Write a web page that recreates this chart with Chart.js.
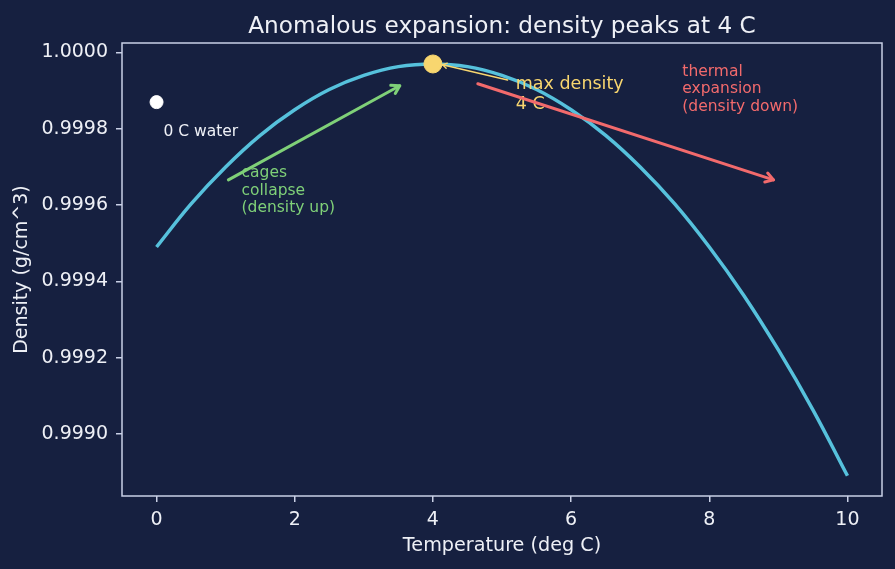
<!DOCTYPE html>
<html>
<head>
<meta charset="utf-8">
<script src="https://cdn.jsdelivr.net/npm/chart.js@4.4.1/dist/chart.umd.min.js"></script>
<style>
  html, body { margin: 0; padding: 0; background: #162040; }
  canvas { display: block; }
</style>
</head>
<body>
<canvas id="chart" width="895" height="569"></canvas>
<script>
// density of water vs temperature
const temps = [0, 0.5, 1, 1.5, 2, 2.5, 3, 3.5, 4, 4.5, 5, 5.5, 6, 6.5, 7, 7.5, 8, 8.5, 9, 9.5, 10];
const density = [0.999490, 0.999603, 0.999700, 0.999783, 0.999850, 0.999903, 0.999940, 0.999963, 0.999970,
                 0.999963, 0.999940, 0.999903, 0.999850, 0.999783, 0.999700, 0.999603, 0.999490, 0.999363,
                 0.999220, 0.999063, 0.998890];

// highlighted points
const iceWater = [0, 0.99987];
const maxPoint = [4, 0.99997];

const xTicks = [0, 2, 4, 6, 8, 10];
const yTicks = [0.9990, 0.9992, 0.9994, 0.9996, 0.9998, 1.0000];

const bg = '#162040';
const spine = '#c9d0e6';
const textCol = '#eef0f6';
const cyan = '#56c1dc';
const yellow = '#f8d66f';
const green = '#7fd078';
const red = '#f26a6c';

function arrow(ctx, x0, y0, x1, y1, color, width, head) {
    let ang = Math.atan2(y1 - y0, x1 - x0);
    ctx.save();
    ctx.strokeStyle = color;
    ctx.lineWidth = width;
    ctx.lineCap = 'round';
    ctx.lineJoin = 'round';
    ctx.beginPath();
    ctx.moveTo(x0, y0);
    ctx.lineTo(x1, y1);
    ctx.stroke();
    if (head > 0) {
        ctx.beginPath();
        ctx.moveTo(x1 - head * Math.cos(ang - 0.55), y1 - head * Math.sin(ang - 0.55));
        ctx.lineTo(x1, y1);
        ctx.lineTo(x1 - head * Math.cos(ang + 0.55), y1 - head * Math.sin(ang + 0.55));
        ctx.stroke();
    }
    ctx.restore();
}

function lines(ctx, list, x, y, color, size, gap) {
    ctx.save();
    ctx.fillStyle = color;
    ctx.font = size + 'px "DejaVu Sans"';
    ctx.textAlign = 'left';
    ctx.textBaseline = 'alphabetic';
    list.forEach((s, i) => ctx.fillText(s, x, y + i * gap));
    ctx.restore();
}

const background = {
    id: 'background',
    beforeDraw(chart) {
        let ctx = chart.ctx;
        ctx.save();
        ctx.fillStyle = bg;
        ctx.fillRect(0, 0, chart.width, chart.height);
        ctx.restore();
    }
};

const annotations = {
    id: 'annotations',
    afterDatasetsDraw(chart) {
        let ctx = chart.ctx;
        let area = chart.chartArea;
        let x = chart.scales.x, y = chart.scales.y;
        let px = v => x.getPixelForValue(v);
        let py = v => y.getPixelForValue(v);

        // frame
        ctx.save();
        ctx.strokeStyle = spine;
        ctx.lineWidth = 1.5;
        ctx.strokeRect(area.left, area.top, area.right - area.left, area.bottom - area.top);
        ctx.restore();

        // title
        ctx.save();
        ctx.fillStyle = textCol;
        ctx.font = '23.2px "DejaVu Sans"';
        ctx.textAlign = 'center';
        ctx.fillText('Anomalous expansion: density peaks at 4 C', (area.left + area.right) / 2, 32.5);
        ctx.restore();

        lines(ctx, ['0 C water'], px(0.10), py(0.99978), textCol, 15.5, 17.5);

        arrow(ctx, px(5.08), py(0.999928), px(4.14), py(0.999968), yellow, 1.4, 5);
        lines(ctx, ['max density', '4 C'], px(5.20), py(0.999905), yellow, 17.5, 20);

        arrow(ctx, px(1.04), py(0.999666), px(3.52), py(0.999913), green, 3, 9);
        lines(ctx, ['cages', 'collapse', '(density up)'], px(1.23), py(0.999673), green, 15.5, 17.5);

        arrow(ctx, px(4.65), py(0.999918), px(8.93), py(0.999666), red, 3, 9);
        lines(ctx, ['thermal', 'expansion', '(density down)'], px(7.61), py(0.999939), red, 15.5, 17.5);
    }
};

Chart.defaults.font.family = '"DejaVu Sans"';
Chart.defaults.color = textCol;

let ctx = document.getElementById('chart').getContext('2d');

let chart = new Chart(ctx, {
    type: 'line',
    data: {
        datasets: [{
            data: [{x: maxPoint[0], y: maxPoint[1]}],
            backgroundColor: yellow,
            borderColor: yellow,
            pointRadius: 9,
            showLine: false,
            order: 0
        }, {
            data: [{x: iceWater[0], y: iceWater[1]}],
            backgroundColor: '#ffffff',
            borderColor: '#ffffff',
            pointRadius: 6.5,
            showLine: false,
            order: 1
        }, {
            data: temps.map((t, i) => ({x: t, y: density[i]})),
            borderColor: cyan,
            borderWidth: 3.5,
            pointRadius: 0,
            tension: 0.4,
            fill: false,
            order: 2
        }]
    },
    options: {
        responsive: false,
        animation: false,
        layout: { padding: { top: 43, right: 13, bottom: 0, left: 0 } },
        plugins: {
            legend: { display: false },
            tooltip: { enabled: false }
        },
        scales: {
            x: {
                type: 'linear',
                min: -0.5,
                max: 10.5,
                afterFit: s => { s.height = 73; },
                afterBuildTicks: s => { s.ticks = xTicks.map(v => ({value: v})); },
                ticks: {
                    font: { size: 19 },
                    color: textCol,
                    padding: 7,
                    callback: v => String(v)
                },
                grid: { drawOnChartArea: false, drawTicks: true, tickLength: 6, color: spine, lineWidth: 1.5 },
                border: { display: false },
                title: {
                    display: true,
                    text: 'Temperature (deg C)',
                    color: textCol,
                    font: { size: 19.2 },
                    padding: { top: 0, bottom: 11 }
                }
            },
            y: {
                type: 'linear',
                min: 0.998837,
                max: 1.000025,
                afterFit: s => { s.width = 122; },
                afterBuildTicks: s => { s.ticks = yTicks.map(v => ({value: v})); },
                ticks: {
                    font: { size: 19 },
                    color: textCol,
                    padding: 8,
                    callback: v => Number(v).toFixed(4)
                },
                grid: { drawOnChartArea: false, drawTicks: true, tickLength: 6, color: spine, lineWidth: 1.5 },
                border: { display: false },
                title: {
                    display: true,
                    text: 'Density (g/cm^3)',
                    color: textCol,
                    font: { size: 19 },
                    padding: { top: 11, bottom: 0 }
                }
            }
        }
    },
    plugins: [background, annotations]
});
</script>
</body>
</html>
